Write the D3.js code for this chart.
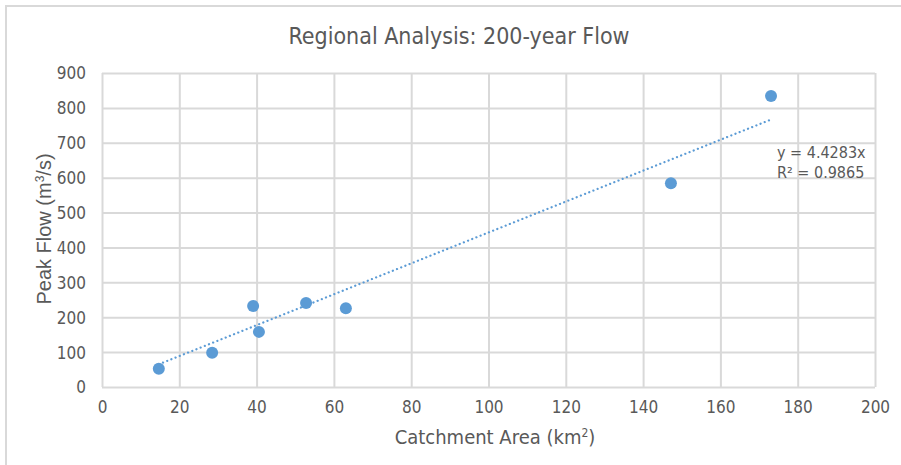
<!DOCTYPE html>
<html><head><meta charset="utf-8">
<script src="https://cdn.jsdelivr.net/npm/d3@7"></script>
<style>body{margin:0;background:#fff}svg{display:block}</style>
</head><body>
<svg id="c" width="901" height="465"></svg>
<script>
const areaKm2 = [14.7, 28.5, 39.1, 40.6, 52.8, 63.1, 147.2, 173.1];
const peakFlow = [52, 98, 232, 158, 241, 226, 584, 834];
const slope = 4.4283;
const r2 = 0.9865;
const xTicks = [0,20,40,60,80,100,120,140,160,180,200];
const yTicks = [0,100,200,300,400,500,600,700,800,900];
const titleText = "Regional Analysis: 200-year Flow";

const svg = d3.select("#c");
const m = {l:102, r:875, t:73, b:387};
const x = d3.scaleLinear().domain([0,200]).range([m.l, m.r]);
const y = d3.scaleLinear().domain([0,900]).range([m.b, m.t]);
const grid = "#d9d9d9", txt = "#595959", blue = "#5b9bd5";
const font = "'DejaVu Sans Condensed', 'DejaVu Sans', sans-serif";

// outer chart border
svg.append("rect").attr("x",6).attr("y",6).attr("width",905).attr("height",470)
  .attr("fill","none").attr("stroke",grid).attr("stroke-width",2);

// grid
const xa = svg.append("g").attr("transform",`translate(0,${m.b})`)
  .call(d3.axisBottom(x).tickValues(xTicks).tickSize(-(m.b-m.t)).tickPadding(14));
const ya = svg.append("g").attr("transform",`translate(${m.l},0)`)
  .call(d3.axisLeft(y).tickValues(yTicks).tickSize(-(m.r-m.l)).tickPadding(16));
[xa,ya].forEach(a=>{
  a.select(".domain").remove();
  a.selectAll("line").attr("stroke",grid).attr("stroke-width",2);
  a.selectAll("text").attr("fill",txt).style("font-family",font).style("font-size","17px");
});
ya.selectAll("text").attr("dy","0.35em");

// trendline
const xmin = d3.min(areaKm2), xmax = d3.max(areaKm2);
svg.append("line").attr("x1",x(xmin)).attr("y1",y(slope*xmin))
  .attr("x2",x(xmax)).attr("y2",y(slope*xmax))
  .attr("stroke",blue).attr("stroke-width",2.2).attr("stroke-dasharray","0.1 4.4")
  .attr("stroke-linecap","round");

// points
svg.selectAll("circle.pt").data(areaKm2.map((a,i)=>[a,peakFlow[i]])).enter()
  .append("circle").attr("class","pt").attr("cx",d=>x(d[0])).attr("cy",d=>y(d[1]))
  .attr("r",6).attr("fill",blue);

// title
svg.append("text").attr("x",459).attr("y",44).attr("text-anchor","middle")
  .attr("fill",txt).style("font-family",font).style("font-size","23px").text(titleText);

// equation label
const eq = svg.append("g").style("font-family",font).style("font-size","16px").attr("fill",txt);
eq.append("text").attr("x",777).attr("y",158).text("y = " + slope + "x");
eq.append("text").attr("x",777).attr("y",178).text("R² = " + r2);

// axis titles
const xt = svg.append("text").attr("x",495).attr("y",444).attr("text-anchor","middle")
  .attr("fill",txt).style("font-family",font).style("font-size","20px");
xt.append("tspan").text("Catchment Area (km");
xt.append("tspan").attr("baseline-shift","super").style("font-size","12px").text("2");
xt.append("tspan").text(")");

const yt = svg.append("text").attr("transform","translate(51,229) rotate(-90)").attr("text-anchor","middle")
  .attr("fill",txt).style("font-family","'Liberation Sans', Arial, sans-serif").style("font-size","20px");
yt.append("tspan").text("Peak Flow (m");
yt.append("tspan").attr("baseline-shift","super").style("font-size","12px").text("3");
yt.append("tspan").text("/s)");
</script>
</body></html>
